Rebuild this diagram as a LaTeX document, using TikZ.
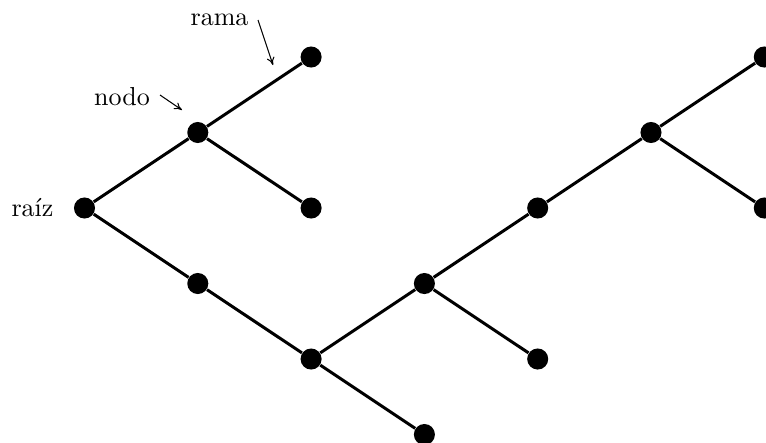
\documentclass[tikz,border=0pt]{standalone}
\usetikzlibrary{arrows.meta}
\begin{document}
\begin{tikzpicture}[x=0.3846pt,y=-0.3846pt,
  dot/.style={circle,fill=black,inner sep=0pt,minimum size=8.1pt},
  branch/.style={line width=1.15pt},
  pointer/.style={line width=0.4pt,-{To[length=3pt,width=3pt]}},
  lbl/.style={inner sep=0pt}]
\useasboundingbox (0,0) rectangle (766,442);
\clip (0,0) rectangle (766,442);
% nodes
\node[dot] (r) at (84.5,208) {};
\node[dot] (a) at (197.8,132.5) {};
\node[dot] (a1) at (311.1,57) {};
\node[dot] (a2) at (311.1,208) {};
\node[dot] (b) at (197.8,283.5) {};
\node[dot] (c) at (311.1,359) {};
\node[dot] (c1) at (424.4,434.5) {};
\node[dot] (d) at (424.4,283.5) {};
\node[dot] (d1) at (537.7,359) {};
\node[dot] (e) at (537.7,208) {};
\node[dot] (f) at (651,132.5) {};
\node[dot] (f1) at (764.3,57) {};
\node[dot] (f2) at (764.3,208) {};
% branches
\draw[branch] (r) -- (a) -- (a1);
\draw[branch] (a) -- (a2);
\draw[branch] (r) -- (b) -- (c) -- (c1);
\draw[branch] (c) -- (d) -- (d1);
\draw[branch] (d) -- (e) -- (f) -- (f1);
\draw[branch] (f) -- (f2);
% labels
\node[lbl] (traiz) at (32.5,208) {ra\'{\i}z};
\node[lbl] (tnodo) at (122,97) {nodo};
\node[lbl] (trama) at (219.5,20) {rama};
\coordinate (nstart) at (160,95);
\coordinate (nend) at (182,110);
\coordinate (rstart) at (258,20);
\coordinate (rend) at (273,65);
\draw[pointer] (nstart) -- (nend);
\draw[pointer] (rstart) -- (rend);
\end{tikzpicture}
\end{document}
